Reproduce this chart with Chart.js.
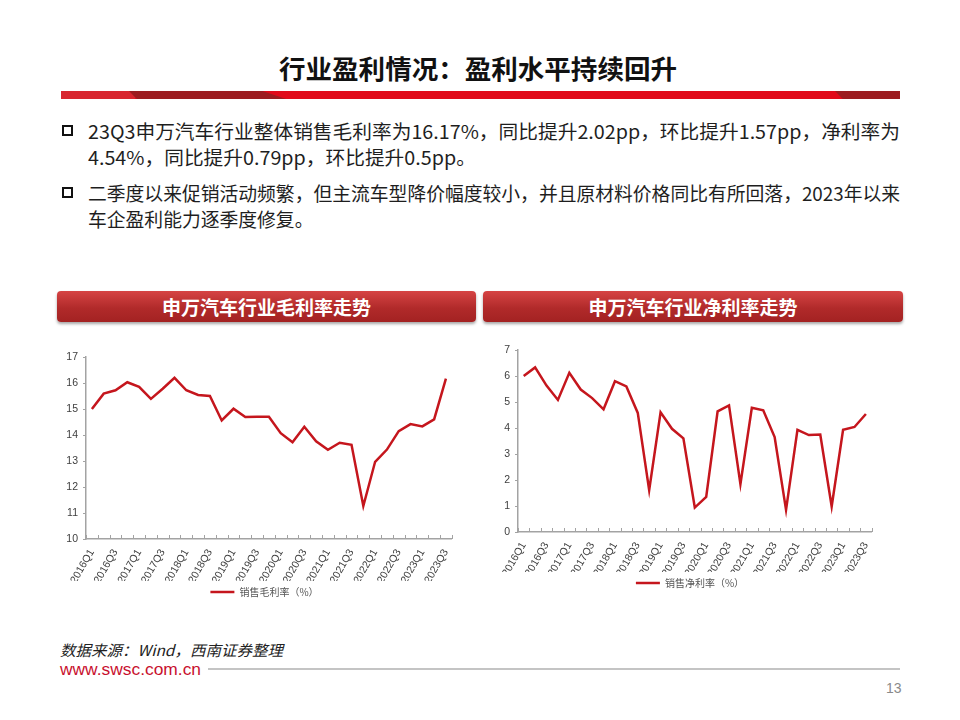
<!DOCTYPE html>
<html><head><meta charset="utf-8">
<script src="https://cdn.jsdelivr.net/npm/chart.js@4"></script>
<style>
html,body{margin:0;padding:0;}
body{width:960px;height:720px;background:#fff;position:relative;overflow:hidden;font-family:"Noto Sans CJK SC","Noto Sans",sans-serif;color:#1a1a1a;}
.abs{position:absolute;}
.fit{display:inline-block;white-space:nowrap;transform-origin:0 50%;}
#title{left:279px;top:49px;font-size:26px;font-weight:bold;line-height:38px;color:#111;}
.bar{position:absolute;top:91px;height:8px;}
.line{position:absolute;left:88px;font-size:19px;line-height:26px;height:26px;color:#1e1e1e;}
.bullet{position:absolute;left:62px;width:7px;height:7px;border:2.5px solid #111;background:#fff;}
.hdr{position:absolute;top:291px;height:31px;border-radius:4px;background:linear-gradient(#d64444,#b12a2a 55%,#a32222);box-shadow:0 2px 3px rgba(0,0,0,0.35);color:#fff;font-weight:bold;font-size:19px;line-height:31px;text-align:center;}
canvas{position:absolute;}
#src{left:60px;top:640px;font-size:15px;font-style:italic;line-height:20px;color:#222;}
#web{left:60px;top:659px;font-family:"Liberation Sans",Arial,sans-serif;font-size:16px;line-height:22px;color:#c8102e;}
#rule{left:208px;top:668px;width:692px;height:2px;background:#c4c4c4;}
#page{left:886px;top:679px;font-family:"Liberation Sans",Arial,sans-serif;font-size:14px;line-height:18px;color:#8a8a8a;}
</style></head>
<body>
<div id="title" class="abs fit">行业盈利情况：盈利水平持续回升</div>
<div class="bar" style="left:61px;width:839px;background:#e10a1a;"></div>
<div class="bar" style="left:61px;width:80px;background:#d8262f;clip-path:polygon(0 0,100% 0,92% 100%,0 100%);"></div>
<div class="bar" style="left:129px;width:157px;background:#9c1c20;clip-path:polygon(0 0,85% 0,100% 100%,5% 100%);"></div>
<div class="bar" style="left:835px;width:65px;background:#9c1c20;clip-path:polygon(0 0,100% 0,100% 100%,12% 100%);"></div>

<div class="bullet" style="top:125px;"></div>
<div class="line fit" id="l1" style="top:118px;">23Q3申万汽车行业整体销售毛利率为16.17%，同比提升2.02pp，环比提升1.57pp，净利率为</div>
<div class="line fit" id="l2" style="top:144px;">4.54%，同比提升0.79pp，环比提升0.5pp。</div>
<div class="bullet" style="top:187px;"></div>
<div class="line fit" id="l3" style="top:180px;">二季度以来促销活动频繁，但主流车型降价幅度较小，并且原材料价格同比有所回落，2023年以来</div>
<div class="line fit" id="l4" style="top:206px;">车企盈利能力逐季度修复。</div>

<div class="hdr" style="left:57px;width:419px;">申万汽车行业毛利率走势</div>
<div class="hdr" style="left:483px;width:420px;">申万汽车行业净利率走势</div>

<canvas id="c1" width="415" height="267" style="left:50px;top:340px;"></canvas>
<canvas id="c2" width="400" height="263" style="left:485px;top:335px;"></canvas>

<div id="src" class="abs fit">数据来源：Wind，西南证券整理</div>
<div id="web" class="abs fit">www.swsc.com.cn</div>
<div id="rule" class="abs"></div>
<div id="page" class="abs">13</div>

<script>
// ---- data ----
const quarters = ['2016Q1','2016Q2','2016Q3','2016Q4','2017Q1','2017Q2','2017Q3','2017Q4',
  '2018Q1','2018Q2','2018Q3','2018Q4','2019Q1','2019Q2','2019Q3','2019Q4',
  '2020Q1','2020Q2','2020Q3','2020Q4','2021Q1','2021Q2','2021Q3','2021Q4',
  '2022Q1','2022Q2','2022Q3','2022Q4','2023Q1','2023Q2','2023Q3'];
const grossMargin = [15.0,15.59,15.72,16.03,15.85,15.39,15.78,16.2,15.72,15.54,15.5,14.56,15.01,14.69,14.7,14.7,
  14.07,13.72,14.32,13.76,13.43,13.7,13.62,11.27,12.97,13.44,14.15,14.42,14.33,14.6,16.17];
const netMargin = [6.0,6.33,5.63,5.08,6.12,5.48,5.15,4.72,5.8,5.6,4.58,1.61,4.6,3.97,3.6,0.94,
  1.35,4.64,4.87,1.84,4.78,4.68,3.65,0.85,3.93,3.73,3.75,0.98,3.93,4.04,4.54];
const grossLabel = '销售毛利率（%）';
const netLabel = '销售净利率（%）';

// ---- text fitting ----
function fitW(id, w){ const el=document.getElementById(id); const r=el.getBoundingClientRect().width; const s=w/r; el.style.transform='scaleX('+s+')'; return s; }
function setS(id, s){ document.getElementById(id).style.transform='scaleX('+s+')'; }
fitW('title', 398);
const s1 = fitW('l1', 812); setS('l2', s1);
const s3 = fitW('l3', 812); setS('l4', s3);
fitW('src', 223);
fitW('web', 141);

// ---- charts ----
const RED = '#c5161d';
const AXIS = '#a3a3a3';
const TICKFONT = {family:"'Liberation Sans', Arial, sans-serif", size:10.5};

const innerTicks = {
  id:'innerTicks',
  afterDraw(chart){
    const x = chart.scales.x, ctx = chart.ctx;
    const step = x.getPixelForValue(1) - x.getPixelForValue(0);
    const start = x.getPixelForValue(0) - step/2;
    ctx.save(); ctx.strokeStyle = AXIS; ctx.lineWidth = 1;
    for (let i=0;i<=x.ticks.length;i++){
      const px = Math.round(start + i*step) + 0.5;
      ctx.beginPath(); ctx.moveTo(px, x.top); ctx.lineTo(px, x.top-4); ctx.stroke();
    }
    ctx.restore();
  }
};
function legendShift(dx){
  return { id:'legendShift', afterLayout(chart){ const l = chart.legend; if (l){ l.left += dx; l.right += dx; } } };
}

function buildChart(id, values, yMin, yMax, label, g){
  return new Chart(document.getElementById(id), {
    type:'line',
    data:{ labels: quarters, datasets:[{ label, data: values, borderColor: RED, backgroundColor: RED,
      borderWidth: 2.5, pointRadius: 0, tension: 0, fill: false }] },
    options:{
      responsive:false, animation:false, devicePixelRatio:1,
      layout:{ padding:{ top:g.top, left:0, right:g.right, bottom:0 } },
      plugins:{
        legend:{ position:'bottom', labels:{ usePointStyle:true, pointStyle:'line', pointStyleWidth:24,
          font:{ family:"'Noto Sans CJK SC', sans-serif", size:10 }, color:'#555', padding:6 } },
        tooltip:{ enabled:false }
      },
      scales:{
        x:{ offset:true,
          grid:{ display:true, drawOnChartArea:false, drawTicks:false, offset:true, color:AXIS },
          border:{ color:AXIS, width:1.5 },
          ticks:{ autoSkip:false, maxRotation:60, minRotation:60, padding:8, font:TICKFONT, color:'#404040',
            callback(v,i){ return i%2===0 ? this.getLabelForValue(v) : ''; } },
          afterFit(s){ s.height = g.xh; } },
        y:{ min:yMin, max:yMax,
          ticks:{ stepSize:1, padding:5, font:TICKFONT, color:'#404040' },
          grid:{ drawOnChartArea:false, drawTicks:true, tickLength:3, color:AXIS },
          border:{ color:AXIS, width:1.5 },
          afterFit(s){ s.width = g.yw; } }
      }
    },
    plugins:[innerTicks, legendShift(g.dx)]
  });
}
buildChart('c1', grossMargin, 10, 17, grossLabel, {top:17, right:10, yw:36, xh:42, dx:12});
buildChart('c2', netMargin, 0, 7, netLabel, {top:15, right:12, yw:33, xh:40, dx:11});
</script>
</body></html>
